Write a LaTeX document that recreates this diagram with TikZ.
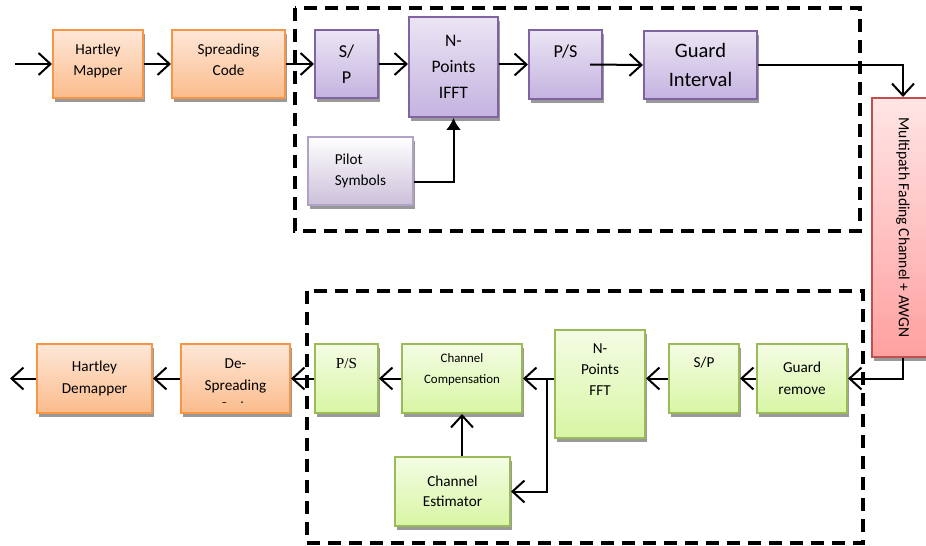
\documentclass[tikz,border=0pt]{standalone}
\usepackage{fontspec}
\setmainfont{Carlito}
\newfontfamily\timesfont{Liberation Serif}
\usetikzlibrary{arrows.meta,shadows}
\definecolor{OrangeLine}{HTML}{F79646}
\definecolor{OrangeTop}{HTML}{FEE7D8}
\definecolor{OrangeBot}{HTML}{FBBC8C}
\definecolor{PurpleLine}{HTML}{8064A2}
\definecolor{PurpleTop}{HTML}{EBE5F4}
\definecolor{PurpleBot}{HTML}{C4B3E0}
\definecolor{GreenLine}{HTML}{9BBB59}
\definecolor{GreenTop}{HTML}{F4FCE4}
\definecolor{GreenBot}{HTML}{D8F6A4}
\definecolor{RedLine}{HTML}{C0504D}
\definecolor{RedTop}{HTML}{FFE5E5}
\definecolor{RedBot}{HTML}{FFA0A0}
\definecolor{PilotLine}{HTML}{B3A2C7}
\definecolor{PilotBot}{HTML}{CCC0DA}
\tikzset{
  blk/.style={line width=0.6mm, align=center, inner sep=0pt,
    drop shadow={shadow xshift=0.6mm, shadow yshift=-1.2mm, fill=black!40, opacity=1},
    font=\fontsize{13}{18.5}\selectfont},
  orangeblk/.style={blk, draw=OrangeLine, top color=OrangeTop, bottom color=OrangeBot},
  purpleblk/.style={blk, draw=PurpleLine, top color=PurpleTop, bottom color=PurpleBot},
  greenblk/.style={blk, draw=GreenLine, top color=GreenTop, bottom color=GreenBot},
  sig/.style={line width=0.6mm, -{Straight Barb[length=3.6mm,width=6.6mm]}},
  dashbox/.style={line width=1.2mm, dash pattern=on 3.9mm off 2.4mm}
}

\begin{document}
\begin{tikzpicture}[x=0.3mm, y=-0.3mm]
    \useasboundingbox (0,0) rectangle (926,546);

    % Transmitter
    \draw[dashbox] (295,8) rectangle (860,231);
    \coordinate (in) at (15,64);
    \node[orangeblk, minimum width=27mm, minimum height=20.4mm, text depth=2.5mm] (hmap) at (98,64) {Hartley\\Mapper};
    \node[orangeblk, minimum width=33.9mm, minimum height=20.4mm, text depth=2.5mm] (spread) at (228.5,64) {Spreading\\Code};
    \node[purpleblk, minimum width=18.9mm, minimum height=20.4mm, font=\fontsize{15.5}{22}\selectfont] (sp1) at (346.5,64) {S/\\P};
    \node[purpleblk, minimum width=26.7mm, minimum height=30mm, font=\fontsize{15}{22.5}\selectfont] (ifft) at (453.5,67) {N-\\Points\\IFFT};
    \node[purpleblk, minimum width=21.9mm, minimum height=20.7mm, font=\fontsize{15.5}{20}\selectfont, text depth=8mm] (ps1) at (565.5,64.5) {P/S};
    \node[purpleblk, minimum width=33.9mm, minimum height=20.4mm, font=\fontsize{17.5}{24.5}\selectfont] (gint) at (700.5,65) {Guard\\Interval};
    \node[blk, draw=PilotLine, top color=white, bottom color=PilotBot, align=left, minimum width=31.5mm, minimum height=20.4mm] (pilot) at (360.5,171) {Pilot\\Symbols};

    \draw[sig] (in) -- (hmap.west);
    \draw[sig] (hmap.east) -- (spread.west);
    \draw[sig] (spread.east) -- (sp1.west);
    \draw[sig] (sp1.east) -- (sp1.east -| ifft.west);
    \draw[sig] (ifft.east |- ps1.west) -- (ps1.west);
    \draw[sig] ([xshift=-3.9mm]ps1.east) -- (gint.west);
    \draw[line width=0.6mm, -{Latex[length=3.6mm,width=4.5mm]}] ([yshift=-3.3mm]pilot.east) -| (ifft.south);

    % Channel
    \node[blk, draw=RedLine, top color=RedTop, bottom color=RedBot, minimum width=18.6mm, minimum height=77.7mm, font=\fontsize{13.3}{16}\selectfont] (chan) at (903,227.5) {\rotatebox{-90}{Multipath Fading Channel + AWGN}};
    \draw[sig] (gint.east) -| (chan.north);

    % Receiver
    \draw[dashbox] (307,291) rectangle (863,543);
    \node[greenblk, minimum width=27mm, minimum height=20.7mm] (grem) at (802,378.5) {Guard\\remove};
    \node[greenblk, minimum width=21mm, minimum height=20.7mm, text depth=10mm] (sp2) at (704,378.5) {S/P};
    \node[greenblk, minimum width=27mm, minimum height=32.4mm, font=\fontsize{13}{18}\selectfont, text depth=8.5mm] (fft) at (600,384) {N-\\Points\\FFT};
    \node[greenblk, minimum width=36mm, minimum height=20.7mm, font=\fontsize{11}{18.5}\selectfont, text depth=6mm] (comp) at (462,378.5) {Channel\\Compensation};
    \node[greenblk, minimum width=34.5mm, minimum height=20.7mm, font=\fontsize{13}{17.5}\selectfont] (est) at (452.5,491.5) {Channel\\Estimator};
    \node[greenblk, minimum width=18.9mm, minimum height=20.7mm, font=\timesfont\fontsize{13}{16}\selectfont, text depth=9mm] (ps2) at (346.5,378.5) {P/S};
    \node[orangeblk, minimum width=32.7mm, minimum height=20.7mm,
      path picture={
        \clip (path picture bounding box.north west) rectangle ([yshift=3.3mm]path picture bounding box.south east);
        \node[font=\fontsize{13}{18.5}\selectfont, align=center, inner sep=0pt] (dsctext) at ([yshift=-2.2mm]path picture bounding box.center) {De-\\Spreading\\Code};}] (dspread) at (235.5,378.5) {};
    \node[orangeblk, minimum width=34.5mm, minimum height=20.7mm] (hdemap) at (94.5,378.5) {Hartley\\Demapper};
    \coordinate (out) at (10,378.5);
    \coordinate (br) at (547,378.5);

    \draw[sig] (chan.south) |- (grem.east);
    \draw[sig] (grem.west) -- (sp2.east);
    \draw[sig] (sp2.west) -- (sp2.west -| fft.east);
    \draw[sig] (fft.west |- comp.east) -- (comp.east);
    \draw[sig] (br) |- (est.east);
    \draw[sig] (comp.south |- est.north) -- (comp.south);
    \draw[sig] (comp.west) -- (ps2.east);
    \draw[sig] (ps2.west) -- (dspread.east);
    \draw[sig] (dspread.west) -- (hdemap.east);
    \draw[sig] (hdemap.west) -- (out);
\end{tikzpicture}
\end{document}
